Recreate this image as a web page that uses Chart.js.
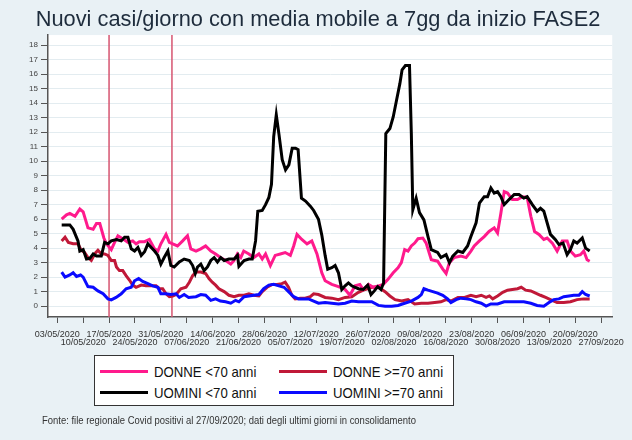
<!doctype html>
<html>
<head>
<title>Nuovi casi/giorno - FASE2</title>
<script src="https://cdn.jsdelivr.net/npm/chart.js@4.4.1/dist/chart.umd.min.js"></script>
<style>
	body { margin: 0; background: #e9f1f5; }
	.wrap { position: relative; width: 632px; height: 440px; }
	.legend { position: absolute; left: 94px; top: 355px; width: 360px; height: 51px; background: #fff; border: 1px solid #333; box-sizing: border-box; font-family: "Liberation Sans", Arial, sans-serif; color: #111; }
	.item { position: absolute; height: 20px; width: 170px; }
	.item i { position: absolute; left: 0; top: 8px; width: 48px; height: 3px; }
	.item span { position: absolute; left: 54px; top: 0; font-size: 15px; line-height: 20px; white-space: nowrap; transform: scaleX(0.88); transform-origin: left center; }
	.note { position: absolute; left: 42px; top: 414px; font: 11px "Liberation Sans", Arial, sans-serif; color: #333; white-space: nowrap; transform: scaleX(0.86); transform-origin: left center; }
</style>
</head>
<body>
<div class="wrap">
	<canvas id="chart-area" width="632" height="440"></canvas>
	<div class="legend" id="legend"></div>
	<div class="note">Fonte: file regionale Covid positivi al 27/09/2020; dati degli ultimi giorni in consolidamento</div>
</div>
<script>
	// x = days since 03/05/2020, y = new cases per day (7 day moving average)
	var donneUnder70 = [
		[1.2, 6.0], [2.5, 6.3], [3.4, 6.4], [4.8, 6.2], [6.1, 6.7], [7, 6.5], [8.3, 5.4], [9.7, 5.3], [10.6, 5.7], [11.5, 5.7],
		[12.6, 4.7], [13.3, 4.3], [14.6, 3.9], [15.5, 4.4], [16.4, 4.85], [17.7, 4.65], [19.1, 4.4], [20.4, 4.5], [21.3, 4.3], [22.2, 4.45],
		[23.6, 4.45], [24.9, 4.6], [26.3, 3.95], [27.2, 3.8], [28, 4.3], [29.4, 4.95], [30.3, 4.4], [31.2, 4.3], [32.5, 4.15], [33.9, 4.5],
		[35.2, 4.85], [36.1, 3.95], [37.5, 3.8], [38.8, 3.95], [40.1, 4.15], [41.5, 3.8], [42.8, 3.6], [44.1, 3.35], [45.5, 3.15], [46.9, 2.9],
		[47.8, 3.15], [48.7, 3.6], [49.6, 3.35], [50.4, 3.8], [51.8, 3.6], [53.1, 3.35], [54.5, 3.6], [55.4, 3.25], [56.3, 3.6], [57.6, 2.8],
		[58.9, 3.5], [60.3, 3.6], [61.6, 3.7], [63, 3.5], [63.9, 4.15], [64.8, 4.95], [66.1, 4.6], [67.5, 4.3], [68.8, 4.5], [70.2, 3.6],
		[71.5, 2.3], [72.4, 1.75], [74.2, 1.5], [76, 1.35], [77.8, 1.15], [79.1, 0.75], [80.5, 1.4], [81.8, 1.5], [82.7, 1.15], [84.1, 1.5],
		[85.4, 1.3], [86.8, 1.4], [88.1, 1.5], [89.4, 1.85], [90.8, 2.3], [92.1, 2.65], [93, 3.0], [93.9, 3.9], [94.8, 3.8], [95.7, 4.15],
		[96.6, 4.35], [97.5, 4.65], [98.8, 4.7], [99.7, 4.35], [101.1, 3.2], [102.8, 3.1], [104.2, 2.55], [105.1, 2.25], [106, 3.0], [107.3, 3.35],
		[109.1, 3.45], [110.5, 3.35], [111.8, 3.8], [112.7, 4.15], [114.1, 4.5], [115.4, 4.8], [116.7, 5.15], [118.1, 5.4], [119, 5.05], [119.9, 6.4],
		[120.8, 7.9], [121.7, 7.8], [123, 7.35], [124.4, 7.35], [125.7, 7.55], [127, 7.5], [128, 6.2], [129, 5.15], [130.2, 4.95], [131.5, 4.6],
		[132.4, 4.7], [133.8, 4.35], [135.1, 3.8], [136.5, 4.5], [137.8, 4.5], [138.7, 3.8], [140, 3.45], [141.4, 3.55], [142.3, 3.8], [143.2, 3.2],
		[143.9, 3.1]
	];
	var donneOver70 = [
		[1.2, 4.5], [2.1, 4.75], [3, 4.4], [4.3, 4.3], [5.6, 4.3], [6.5, 3.85], [7.4, 3.7], [8.3, 3.35], [9.2, 3.15], [10.1, 3.6],
		[11, 3.85], [11.9, 3.6], [12.8, 3.6], [13.7, 3.5], [14.6, 3.15], [15.5, 3.15], [16, 2.7], [16.8, 2.45], [17.7, 2.45], [18.6, 2.1],
		[19.5, 1.8], [20.4, 1.45], [21.3, 1.3], [22.7, 1.45], [24, 1.4], [25.4, 1.4], [26.7, 1.4], [27.6, 1.2], [28.5, 1.2], [29.4, 0.85],
		[30.3, 0.65], [31.2, 0.7], [32.1, 0.8], [33.4, 1.2], [34.8, 1.3], [35.7, 1.65], [36.6, 2.1], [37.5, 2.35], [38.8, 2.35], [40.1, 2.25],
		[41, 1.9], [41.9, 1.65], [42.8, 1.45], [43.7, 1.2], [45.1, 1.0], [46.4, 0.75], [47.8, 0.65], [49.1, 0.75], [50.5, 0.75], [51.8, 0.85],
		[53.1, 0.75], [54.5, 0.7], [55.4, 1.0], [56.7, 1.3], [58.1, 1.5], [59.4, 1.5], [60.7, 1.55], [61.6, 1.65], [62.5, 1.3], [63.4, 0.75],
		[64.3, 0.5], [65.7, 0.55], [67, 0.55], [68.4, 0.65], [69.3, 0.85], [70.6, 0.8], [72.4, 0.6], [74.2, 0.55], [76, 0.45], [77.8, 0.6],
		[79.6, 0.65], [81.4, 0.95], [83.2, 1.15], [85, 1.3], [86.8, 1.3], [88.6, 1.0], [89.9, 0.7], [91.3, 0.45], [93.1, 0.35], [94.8, 0.45],
		[96.6, 0.15], [98.4, 0.2], [100.2, 0.2], [102, 0.25], [103.7, 0.3], [105.1, 0.45], [106.4, 0.35], [108.3, 0.6], [110.1, 0.6], [111.8, 0.75],
		[113.2, 0.65], [114.6, 0.75], [115.9, 0.6], [116.8, 0.7], [117.7, 0.5], [119, 0.7], [120.4, 0.95], [121.7, 1.1], [123, 1.15], [124.4, 1.2],
		[125.4, 1.3], [126.6, 1.1], [128, 1.05], [129.3, 0.9], [130.6, 0.75], [132, 0.6], [133.3, 0.45], [135.1, 0.25], [136.9, 0.25], [138.7, 0.3],
		[140.5, 0.45], [142.3, 0.5], [143.9, 0.5]
	];
	var uominiUnder70 = [
		[1.2, 5.6], [3.4, 5.6], [4.3, 5.3], [5.6, 4.5], [6.1, 3.8], [7, 3.9], [7.9, 3.25], [8.8, 3.3], [9.7, 3.6], [10.6, 3.45],
		[11.9, 3.45], [12.8, 4.4], [13.7, 4.3], [14.6, 4.5], [16, 4.6], [17.3, 4.5], [18.2, 4.75], [19.1, 4.75], [20, 3.95], [20.9, 3.8],
		[21.8, 4.05], [22.7, 3.5], [23.6, 3.75], [24.5, 4.3], [25.4, 4.05], [26.3, 3.8], [27.2, 3.5], [28, 2.9], [28.9, 3.35], [29.9, 3.8],
		[30.7, 2.8], [31.6, 2.7], [33, 3.05], [34.3, 3.25], [35.7, 3.15], [36.6, 2.8], [37.3, 2.25], [37.9, 2.7], [38.8, 2.9], [39.7, 2.45],
		[40.6, 2.7], [41.5, 3.15], [42.4, 3.35], [43.3, 3.05], [44.2, 3.35], [45.1, 3.15], [46.4, 3.25], [47.8, 3.25], [48.7, 3.5], [49.1, 2.75],
		[50.5, 3.15], [51.8, 3.25], [52.7, 3.25], [53.6, 4.5], [54.2, 6.55], [55.4, 6.6], [56.3, 7.0], [57.2, 7.5], [57.9, 8.4], [58.5, 11.7],
		[59.2, 13.2], [59.9, 11.9], [60.8, 10.1], [61.7, 9.4], [62.6, 9.75], [63.5, 10.9], [64.4, 10.9], [65.1, 10.8], [66, 7.45], [67.1, 7.25],
		[68.4, 6.9], [69.3, 6.6], [70.6, 6.0], [71.5, 4.9], [72.4, 3.5], [73.1, 2.55], [74.2, 2.65], [75.1, 2.8], [76, 2.3], [76.9, 1.15],
		[77.8, 1.4], [78.7, 1.6], [79.6, 1.4], [80.5, 1.3], [81.4, 1.2], [82.7, 1.15], [83.9, 1.45], [84.8, 0.8], [85.7, 1.05], [86.6, 1.35],
		[87.5, 1.15], [88.2, 1.6], [88.8, 11.9], [89.9, 12.25], [90.8, 13.05], [91.7, 14.2], [92.6, 15.35], [93.2, 16.3], [94.1, 16.6], [95.2, 16.6],
		[95.7, 11.9], [96.1, 6.65], [97, 7.45], [97.9, 6.45], [99.1, 5.95], [100.2, 4.8], [101.1, 3.9], [102, 3.8], [102.8, 3.7], [103.7, 3.35],
		[105.1, 3.55], [106, 3.0], [106.9, 3.45], [108.3, 3.8], [109.6, 3.7], [110.9, 4.15], [111.8, 4.8], [113.2, 5.75], [114.1, 7.1], [115.4, 7.55],
		[116.3, 7.55], [117.2, 8.15], [118.1, 7.8], [119, 7.9], [119.9, 7.55], [120.8, 7.0], [122.1, 7.35], [123.5, 7.7], [124.8, 7.7], [126.1, 7.45],
		[127, 7.55], [128.4, 7.0], [129.7, 6.55], [130.6, 6.75], [131.5, 6.55], [132.4, 5.75], [133.3, 4.95], [134.6, 4.6], [135.6, 4.25], [136.7, 4.35],
		[137.8, 3.55], [138.7, 3.9], [139.6, 4.5], [140.5, 4.35], [141.9, 4.7], [142.8, 4.0], [143.9, 3.8]
	];
	var uominiOver70 = [
		[1.2, 2.35], [2.1, 2.0], [3.4, 2.15], [4.3, 2.3], [5.2, 2.05], [6.3, 2.15], [7, 2.0], [8.3, 1.35], [9.7, 1.3], [11, 1.05],
		[12.4, 0.85], [13.7, 0.5], [14.6, 0.43], [15.9, 0.6], [17.3, 0.85], [18.6, 1.2], [20, 1.3], [20.9, 1.75], [22, 1.9], [23.1, 1.7],
		[24.5, 1.55], [25.8, 1.4], [27.2, 1.3], [28, 0.85], [29.4, 0.85], [30.7, 0.8], [32.1, 0.85], [33, 0.6], [34.3, 0.8], [35.5, 0.6],
		[37.5, 0.65], [38.8, 0.8], [40.1, 0.75], [41.5, 0.4], [42.8, 0.5], [44.1, 0.35], [45.5, 0.3], [46.9, 0.2], [48.2, 0.4], [49.1, 0.3],
		[50.5, 0.65], [51.8, 0.7], [53.1, 0.75], [54.5, 0.8], [55.8, 1.2], [57.2, 1.45], [58.5, 1.5], [59.9, 1.4], [61.3, 1.3], [62.5, 1.0],
		[63.9, 0.65], [65.2, 0.5], [66.6, 0.5], [67.9, 0.5], [69.3, 0.35], [70.6, 0.2], [72.4, 0.25], [74.2, 0.2], [76, 0.15], [77.8, 0.2],
		[79.6, 0.35], [81.4, 0.3], [83.2, 0.3], [85, 0.3], [86.8, 0.05], [88.6, 0.0], [90.4, 0.0], [92.1, 0.05], [93.9, 0.2], [95.7, 0.35],
		[97.5, 0.6], [98.4, 0.8], [99.1, 1.2], [100.2, 1.1], [101.5, 1.0], [102.8, 0.9], [104.2, 0.75], [105.5, 0.5], [106.4, 0.25], [107.8, 0.45],
		[109.1, 0.55], [110.5, 0.5], [111.8, 0.45], [113.2, 0.3], [114.6, 0.2], [115.9, 0.0], [117.2, 0.15], [119, 0.15], [120.8, 0.3], [122.6, 0.3],
		[124.4, 0.3], [126.1, 0.3], [128, 0.2], [129.7, 0.05], [131.5, 0.0], [132.9, 0.25], [134.2, 0.45], [135.6, 0.5], [136.9, 0.65], [138.3, 0.7],
		[139.6, 0.75], [141, 0.75], [141.9, 1.0], [142.8, 0.8], [143.9, 0.7]
	];

	// weekly ticks, every 7 days from 03/05/2020
	var tickDates = [
		'03/05/2020', '10/05/2020', '17/05/2020', '24/05/2020', '31/05/2020', '07/06/2020', '14/06/2020', '21/06/2020',
		'28/06/2020', '05/07/2020', '12/07/2020', '19/07/2020', '26/07/2020', '02/08/2020', '09/08/2020', '16/08/2020',
		'23/08/2020', '30/08/2020', '06/09/2020', '13/09/2020', '20/09/2020', '27/09/2020'
	];
	// red markers: 17/05 and 03/06
	var phaseDays = [14, 31];

	var series = [
		{ label: 'DONNE <70 anni', data: donneUnder70, color: '#ff1a8c', order: 1 },
		{ label: 'DONNE >=70 anni', data: donneOver70, color: '#c01838', order: 3 },
		{ label: 'UOMINI <70 anni', data: uominiUnder70, color: '#000000', order: 0 },
		{ label: 'UOMINI >=70 anni', data: uominiOver70, color: '#0a0aff', order: 2 },
	];

	var plotBg = {
		id: 'plotBg',
		beforeDraw: function (chart) {
			var a = chart.chartArea, c = chart.ctx;
			c.save();
			c.fillStyle = '#ffffff';
			c.fillRect(a.left, a.top, a.right - a.left, a.bottom - a.top);
			c.restore();
		},
		beforeDatasetsDraw: function (chart) {
			var a = chart.chartArea, c = chart.ctx, x = chart.scales.x;
			c.save();
			c.strokeStyle = '#d65470';
			c.lineWidth = 1.5;
			phaseDays.forEach(function (d) {
				var px = x.getPixelForValue(d);
				c.beginPath();
				c.moveTo(px, a.top);
				c.lineTo(px, a.bottom);
				c.stroke();
			});
			c.restore();
		}
	};

	var ctx = document.getElementById('chart-area').getContext('2d');
	var chart = new Chart(ctx, {
		type: 'line',
		data: {
			datasets: series.map(function (s) {
				return {
					label: s.label,
					data: s.data.map(function (p) { return { x: p[0], y: p[1] }; }),
					borderColor: s.color,
					backgroundColor: s.color,
					borderWidth: 3,
					pointRadius: 0,
					tension: 0,
					fill: false,
					order: s.order,
				};
			}),
		},
		options: {
			responsive: false,
			animation: false,
			layout: { padding: { left: 21, right: 17, top: 0, bottom: 93 } },
			plugins: {
				legend: { display: false },
				tooltip: { enabled: false },
				title: {
					display: true,
					text: 'Nuovi casi/giorno con media mobile a 7gg da inizio FASE2',
					color: '#1e2c3c',
					font: { family: '"Liberation Sans", Arial, sans-serif', size: 21.8, weight: 'normal', lineHeight: 1.15 },
					padding: { top: 7, bottom: 3 },
				},
			},
			scales: {
				x: {
					type: 'linear',
					min: -2.5,
					max: 150,
					afterFit: function (s) { s.height = 30; },
					afterBuildTicks: function (s) {
						s.ticks = tickDates.map(function (t, i) { return { value: i * 7 }; });
					},
					ticks: {
						autoSkip: false,
						maxRotation: 0,
						padding: 8,
						color: '#333',
						font: { family: '"Liberation Sans", Arial, sans-serif', size: 9, lineHeight: 0.88 },
						callback: function (v, i) {
							var t = tickDates[i];
							return i % 2 ? ['', t] : [t, ''];
						},
					},
					grid: { drawOnChartArea: false, drawTicks: true, tickLength: 6, tickColor: '#555' },
					border: { color: '#555', width: 1.5 },
				},
				y: {
					min: -0.75,
					max: 18.7,
					afterFit: function (s) { s.width = 27; },
					ticks: {
						stepSize: 1,
						includeBounds: false,
						padding: 3,
						color: '#444',
						font: { family: '"Liberation Sans", Arial, sans-serif', size: 8 },
					},
					grid: { color: '#e3ecf0', lineWidth: 1, tickColor: '#555', tickLength: 7 },
					border: { color: '#555', width: 1.5 },
				},
			},
		},
		plugins: [plotBg],
	});

	// legend box, 2 columns
	var legend = document.getElementById('legend');
	series.forEach(function (s, i) {
		var item = document.createElement('div');
		item.className = 'item';
		item.style.left = (i % 2 ? 184 : 5) + 'px';
		item.style.top = (i < 2 ? 6 : 27) + 'px';
		item.innerHTML = '<i style="background:' + s.color + '"></i><span></span>';
		item.querySelector('span').textContent = s.label;
		legend.appendChild(item);
	});
</script>
</body>
</html>
